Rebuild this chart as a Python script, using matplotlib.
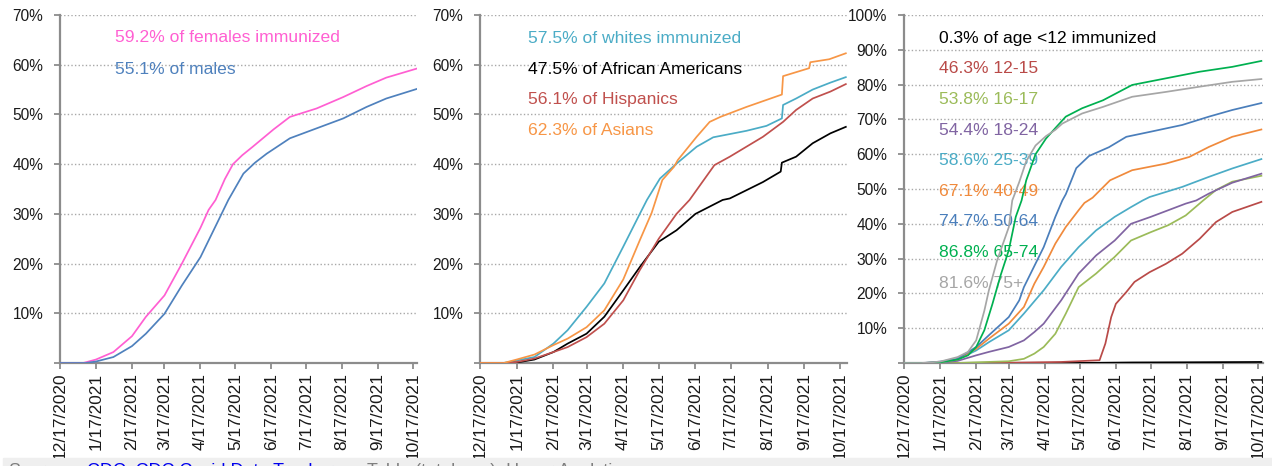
import matplotlib
matplotlib.use("Agg")
import matplotlib.pyplot as plt
import pandas as pd

plt.rcParams["font.family"] = ["Liberation Sans", "DejaVu Sans"]

W, H = 1272, 466
START = pd.Timestamp("2020-12-17")

tick_dates = ["2020-12-17", "2021-01-17", "2021-02-17", "2021-03-17", "2021-04-17", "2021-05-17",
              "2021-06-17", "2021-07-17", "2021-08-17", "2021-09-17", "2021-10-17"]
tick_labels = ["12/17/2020", "1/17/2021", "2/17/2021", "3/17/2021", "4/17/2021", "5/17/2021",
               "6/17/2021", "7/17/2021", "8/17/2021", "9/17/2021", "10/17/2021"]

# ---------------- Panel 1: sex ----------------
fem_dates = ["2020-12-17", "2021-01-06", "2021-01-17", "2021-02-01", "2021-02-17", "2021-03-01",
             "2021-03-17", "2021-04-01", "2021-04-17", "2021-04-24", "2021-04-30", "2021-05-08",
             "2021-05-15", "2021-05-23", "2021-06-01", "2021-06-19", "2021-07-03", "2021-07-26",
             "2021-08-18", "2021-09-07", "2021-09-24", "2021-10-20"]
fem_vals = [0, 0, 0.7, 2.2, 5.4, 9.3, 13.6, 20.0, 27.2, 30.8, 32.8, 37.0,
            40.0, 41.8, 43.5, 47.0, 49.5, 51.2, 53.5, 55.7, 57.4, 59.2]
male_dates = ["2020-12-17", "2021-01-08", "2021-01-17", "2021-02-01", "2021-02-17", "2021-03-01",
              "2021-03-17", "2021-04-01", "2021-04-17", "2021-05-01", "2021-05-11", "2021-05-24",
              "2021-06-03", "2021-06-13", "2021-07-03", "2021-07-26", "2021-08-18", "2021-09-07",
              "2021-09-24", "2021-10-20"]
male_vals = [0, 0, 0.3, 1.2, 3.4, 5.9, 9.9, 15.6, 21.3, 28.0, 32.8, 38.1,
             40.3, 42.1, 45.2, 47.2, 49.2, 51.5, 53.2, 55.1]

# ---------------- Panel 2: race ----------------
white_dates = ["2020-12-17", "2021-01-06", "2021-01-17", "2021-02-01", "2021-02-17", "2021-03-01",
               "2021-03-17", "2021-04-01", "2021-04-17", "2021-05-01", "2021-05-07", "2021-05-18",
               "2021-06-01", "2021-06-18", "2021-07-02", "2021-07-30", "2021-08-16", "2021-08-29",
               "2021-08-30", "2021-09-10", "2021-09-24", "2021-10-09", "2021-10-22"]
white_vals = [0, 0, 0.5, 1.2, 3.9, 6.6, 11.3, 16.0, 23.4, 30.0, 32.8, 37.1,
              40.1, 43.5, 45.4, 46.7, 47.7, 49.2, 51.9, 53.2, 55.0, 56.4, 57.5]
black_dates = ["2020-12-17", "2021-01-08", "2021-01-17", "2021-02-01", "2021-02-17", "2021-03-01",
               "2021-03-17", "2021-04-01", "2021-04-17", "2021-05-01", "2021-05-17", "2021-06-01",
               "2021-06-17", "2021-07-10", "2021-07-16", "2021-08-13", "2021-08-28", "2021-08-29",
               "2021-09-10", "2021-09-24", "2021-10-09", "2021-10-22"]
black_vals = [0, 0, 0.1, 0.7, 2.2, 3.9, 5.9, 9.3, 14.6, 19.3, 24.4, 26.7,
              30.0, 32.8, 33.1, 36.4, 38.5, 40.3, 41.5, 44.2, 46.2, 47.5]
hisp_dates = ["2020-12-17", "2021-01-08", "2021-01-17", "2021-02-01", "2021-02-17", "2021-03-01",
              "2021-03-17", "2021-04-01", "2021-04-17", "2021-05-01", "2021-05-17", "2021-06-01",
              "2021-06-12", "2021-07-03", "2021-07-16", "2021-08-13", "2021-08-30", "2021-09-10",
              "2021-09-24", "2021-10-09", "2021-10-22"]
hisp_vals = [0, 0, 0.2, 0.9, 2.2, 3.2, 5.2, 7.9, 12.6, 18.7, 25.0, 30.0,
             32.8, 39.8, 41.5, 45.5, 48.5, 50.9, 53.2, 54.6, 56.1]
asian_dates = ["2020-12-17", "2021-01-06", "2021-01-17", "2021-02-01", "2021-02-17", "2021-03-01",
               "2021-03-17", "2021-04-01", "2021-04-17", "2021-05-01", "2021-05-11", "2021-05-20",
               "2021-05-30", "2021-06-02", "2021-06-18", "2021-06-29", "2021-07-08", "2021-07-30",
               "2021-08-29", "2021-08-30", "2021-09-21", "2021-09-22", "2021-10-08", "2021-10-22"]
asian_vals = [0, 0, 0.7, 1.7, 3.6, 4.9, 7.2, 10.6, 16.8, 24.7, 30.2, 36.8,
              39.5, 40.8, 45.5, 48.5, 49.5, 51.5, 54.0, 57.7, 59.3, 60.5, 61.1, 62.3]

# ---------------- Panel 3: age ----------------
a75_dates = ["2020-12-17", "2021-01-01", "2021-01-17", "2021-02-01", "2021-02-10", "2021-02-17",
             "2021-02-24", "2021-02-28", "2021-03-07", "2021-03-17", "2021-03-20", "2021-03-26",
             "2021-04-01", "2021-04-09", "2021-04-18", "2021-04-26", "2021-05-02", "2021-05-19",
             "2021-06-06", "2021-07-01", "2021-07-30", "2021-08-28", "2021-09-25", "2021-10-20"]
a75_vals = [0, 0, 0.4, 1.7, 3.2, 6.5, 15.0, 21.0, 29.5, 39.0, 46.7, 52.0,
            58.0, 62.5, 65.2, 67.0, 68.8, 71.7, 73.6, 76.5, 77.9, 79.4, 80.8, 81.6]
a65_dates = ["2020-12-17", "2021-01-03", "2021-01-17", "2021-02-01", "2021-02-10", "2021-02-17",
             "2021-02-24", "2021-03-03", "2021-03-10", "2021-03-17", "2021-03-23", "2021-03-28",
             "2021-04-01", "2021-04-09", "2021-04-18", "2021-04-26", "2021-05-05", "2021-05-19",
             "2021-06-06", "2021-07-01", "2021-07-30", "2021-08-28", "2021-09-25", "2021-10-20"]
a65_vals = [0, 0, 0.2, 1.0, 2.2, 4.6, 9.4, 17.0, 25.2, 32.4, 42.0, 46.7,
            52.5, 60.0, 64.5, 67.5, 70.8, 73.2, 75.5, 79.9, 81.8, 83.7, 85.1, 86.8]
a50_dates = ["2020-12-17", "2021-01-03", "2021-01-17", "2021-02-01", "2021-02-17", "2021-02-28",
             "2021-03-17", "2021-03-26", "2021-03-30", "2021-04-16", "2021-04-26", "2021-05-02",
             "2021-05-05", "2021-05-14", "2021-05-25", "2021-06-11", "2021-06-26", "2021-07-16",
             "2021-08-13", "2021-09-05", "2021-09-25", "2021-10-20"]
a50_vals = [0, 0, 0.4, 1.2, 4.6, 8.0, 13.2, 18.0, 21.8, 33.3, 42.0, 46.7,
            48.5, 56.0, 59.5, 62.0, 65.0, 66.4, 68.4, 70.8, 72.7, 74.7]
a40_dates = ["2020-12-17", "2021-01-03", "2021-01-17", "2021-02-01", "2021-02-17", "2021-02-28",
             "2021-03-17", "2021-03-30", "2021-04-08", "2021-04-16", "2021-04-26", "2021-05-05",
             "2021-05-16", "2021-05-21", "2021-05-28", "2021-06-12", "2021-07-01", "2021-07-30",
             "2021-08-19", "2021-09-05", "2021-09-25", "2021-10-20"]
a40_vals = [0, 0, 0.2, 1.0, 4.1, 7.0, 11.3, 16.1, 22.8, 27.6, 34.3, 39.1,
            43.9, 46.0, 47.5, 52.5, 55.4, 57.3, 59.2, 62.1, 65.0, 67.1]
a25_dates = ["2020-12-17", "2021-01-03", "2021-01-17", "2021-02-01", "2021-02-17", "2021-02-28",
             "2021-03-17", "2021-03-30", "2021-04-16", "2021-05-01", "2021-05-16", "2021-05-31",
             "2021-06-16", "2021-06-30", "2021-07-10", "2021-07-16", "2021-08-13", "2021-09-05",
             "2021-09-25", "2021-10-20"]
a25_vals = [0, 0, 0.1, 1.0, 3.6, 6.0, 9.4, 14.2, 20.9, 27.6, 33.3, 38.1,
            42.0, 44.8, 46.7, 47.7, 50.6, 53.5, 55.9, 58.6]
a18_dates = ["2020-12-17", "2021-01-05", "2021-01-17", "2021-02-01", "2021-02-17", "2021-02-28",
             "2021-03-17", "2021-03-30", "2021-04-08", "2021-04-16", "2021-05-01", "2021-05-16",
             "2021-05-31", "2021-06-16", "2021-06-30", "2021-07-17", "2021-08-01", "2021-08-16",
             "2021-08-25", "2021-09-05", "2021-09-25", "2021-10-20"]
a18_vals = [0, 0, 0.1, 0.6, 2.2, 3.2, 4.6, 6.5, 8.9, 11.3, 18.0, 25.7,
            30.9, 35.2, 40.0, 42.0, 43.9, 45.8, 46.7, 48.7, 51.8, 54.4]
a16_dates = ["2020-12-17", "2021-02-01", "2021-02-17", "2021-03-17", "2021-03-30", "2021-04-08",
             "2021-04-16", "2021-04-26", "2021-05-05", "2021-05-16", "2021-05-31", "2021-06-16",
             "2021-06-30", "2021-07-17", "2021-08-01", "2021-08-16", "2021-08-31", "2021-09-11",
             "2021-09-25", "2021-10-20"]
a16_vals = [0, 0, 0.2, 0.5, 1.2, 2.7, 4.6, 8.4, 14.2, 21.8, 25.7, 30.5,
            35.2, 37.6, 39.6, 42.4, 46.7, 49.7, 52.1, 53.8]
a12_dates = ["2020-12-17", "2021-03-01", "2021-05-01", "2021-06-03", "2021-06-08", "2021-06-13",
             "2021-06-17", "2021-06-26", "2021-07-03", "2021-07-16", "2021-07-30", "2021-08-13",
             "2021-08-28", "2021-09-11", "2021-09-25", "2021-10-20"]
a12_vals = [0, 0, 0.3, 0.8, 5.6, 13.2, 17.0, 20.4, 23.3, 26.1, 28.5, 31.4,
            35.7, 40.5, 43.4, 46.3]
a0_dates = ["2020-12-17", "2021-05-01", "2021-06-01", "2021-07-01", "2021-08-15", "2021-10-20"]
a0_vals = [0, 0, 0.05, 0.15, 0.2, 0.3]

sex_labels = ["59.2% of females immunized", "55.1% of males"]
race_labels = ["57.5% of whites immunized", "47.5% of African Americans",
               "56.1% of Hispanics", "62.3% of Asians"]
age_labels = ["0.3% of age <12 immunized", "46.3% 12-15", "53.8% 16-17", "54.4% 18-24",
              "58.6% 25-39", "67.1% 40-49", "74.7% 50-64", "86.8% 65-74", "81.6% 75+"]

PINK = "#ff5fd2"
BLUE = "#4f81bd"
AQUA = "#4bacc6"
RED = "#c0504d"
ORANGE = "#f79646"
OLIVE = "#9bbb59"
PURPLE = "#8064a2"
GREEN = "#00b050"
GRAY = "#a6a6a6"
AXC = "#8c8c8c"

fig = plt.figure(figsize=(W / 100, H / 100), dpi=100)


def px_axes(l, t, r, b):
    return fig.add_axes([l / W, 1 - b / H, (r - l) / W, (b - t) / H])


def setup(ax, ymax, xend_days):
    ax.set_xlim(START, START + pd.Timedelta(days=xend_days))
    ax.set_ylim(0, ymax)
    yt = list(range(0, ymax + 1, 10))
    ax.set_yticks(yt)
    ax.set_yticklabels(["" if v == 0 else f"{v}%" for v in yt])
    ax.set_xticks(pd.to_datetime(tick_dates))
    ax.set_xticklabels(tick_labels, rotation=90)
    for s in ["top", "right"]:
        ax.spines[s].set_visible(False)
    for s in ["left", "bottom"]:
        ax.spines[s].set_color(AXC)
        ax.spines[s].set_linewidth(1.6)
    ax.grid(axis="y", linestyle=(0, (1, 1.6)), color="#a8a8a8", linewidth=1.0)
    ax.grid(axis="x", visible=False)
    ax.set_axisbelow(True)
    ax.tick_params(axis="both", color=AXC, length=4, width=1.3, labelcolor="#1a1a1a")
    ax.tick_params(axis="x", labelsize=12.4, pad=3)
    ax.tick_params(axis="y", labelsize=11.2, pad=8)


def put_labels(ax, labels, colors, x, y0, dy):
    for i, (s, c) in enumerate(zip(labels, colors)):
        ax.text(x / W, 1 - (y0 + i * dy) / H, s, color=c, fontsize=12.6,
                transform=fig.transFigure, va="center", ha="left", zorder=1)


LW = 1.25

# Panel 1
ax1 = px_axes(60, 15, 417, 363)
setup(ax1, 70, 307.5)
ax1.plot(pd.to_datetime(fem_dates), fem_vals, color=PINK, lw=LW, zorder=3)
ax1.plot(pd.to_datetime(male_dates), male_vals, color=BLUE, lw=LW, zorder=3)
put_labels(ax1, sex_labels, [PINK, BLUE], 115, 38, 32)

# Panel 2
ax2 = px_axes(480, 15, 847, 363)
setup(ax2, 70, 310)
ax2.plot(pd.to_datetime(white_dates), white_vals, color=AQUA, lw=LW, zorder=3)
ax2.plot(pd.to_datetime(black_dates), black_vals, color="black", lw=LW, zorder=3)
ax2.plot(pd.to_datetime(hisp_dates), hisp_vals, color=RED, lw=LW, zorder=3)
ax2.plot(pd.to_datetime(asian_dates), asian_vals, color=ORANGE, lw=LW, zorder=3)
put_labels(ax2, race_labels, [AQUA, "black", RED, ORANGE], 528, 38.3, 30.7)

# Panel 3
ax3 = px_axes(904, 15, 1263, 363)
setup(ax3, 100, 308.4)
age_series = [(a0_dates, a0_vals, "black"), (a12_dates, a12_vals, "#b94a48"),
              (a16_dates, a16_vals, OLIVE), (a18_dates, a18_vals, PURPLE),
              (a25_dates, a25_vals, AQUA), (a40_dates, a40_vals, "#f08a3c"),
              (a50_dates, a50_vals, "#4a7ebb"), (a65_dates, a65_vals, GREEN),
              (a75_dates, a75_vals, GRAY)]
for d, v, c in age_series:
    ax3.plot(pd.to_datetime(d), v, color=c, lw=LW, zorder=3)
put_labels(ax3, age_labels, [c for _, _, c in age_series], 939, 38.3, 30.6)

# Cut-off source strip at the bottom
fig.patches.append(plt.Rectangle((3 / W, 0), 1 - 3 / W, 8 / H, transform=fig.transFigure,
                                 color="#efefef", zorder=0))
fig.text(8 / W, 1 - 462.5 / H, "Source:", color="#7f7f7f", fontsize=13, va="top")
fig.text(87 / W, 1 - 462.5 / H, "CDC, CDC Covid Data Tracker", color="#0000ee",
         fontsize=13, va="top")
fig.text(367 / W, 1 - 462.5 / H, "Table (total pop), Haver Analytics", color="#7f7f7f",
         fontsize=13, va="top")

fig.savefig("out.png", dpi=100)
